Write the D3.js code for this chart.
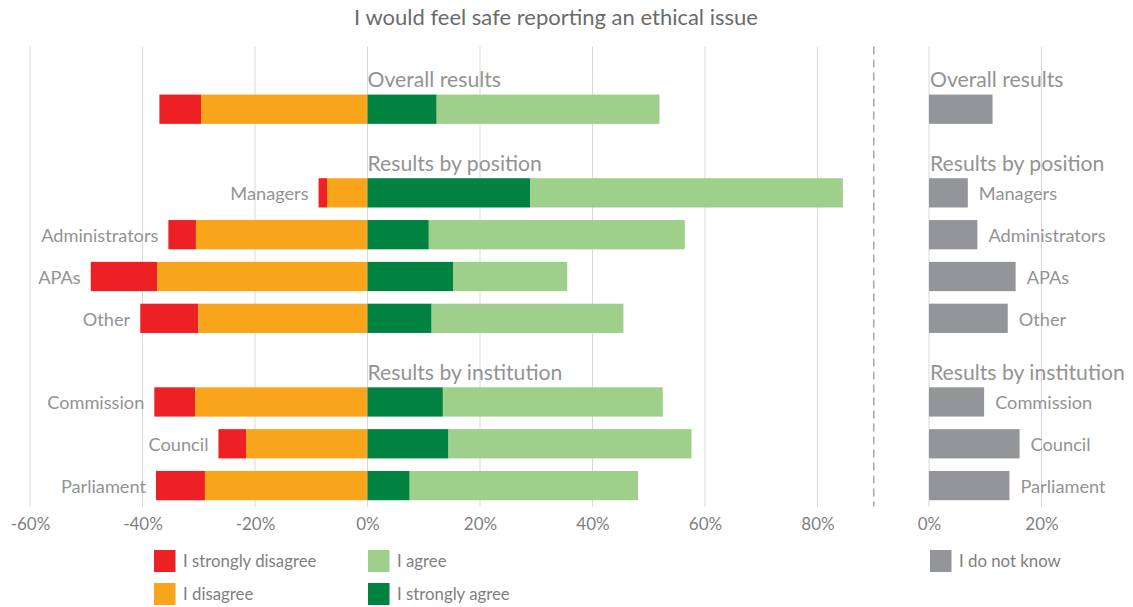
<!DOCTYPE html>
<html><head><meta charset="utf-8">
<script src="https://cdn.jsdelivr.net/npm/d3@7"></script>
<style>body{margin:0;background:#fff;}svg{display:block;font-family:Lato,"Open Sans",sans-serif;}</style>
</head><body><svg id="c" width="1133" height="607"></svg>
<script>
// ---- data ----
const rows = ["h0","Overall","h1","Managers","Administrators","APAs","Other","h2","Commission","Council","Parliament"];
const categories = ["Overall","Managers","Administrators","APAs","Other","Commission","Council","Parliament"];
const categoryLabels = ["","Managers","Administrators","APAs","Other","Commission","Council","Parliament"];
const headerKeys = ["h0","h1","h2"];
const headerLabels = ["Overall results","Results by position","Results by institution"];
const stronglyDisagree = [7.4, 1.5, 4.9, 11.8, 10.3, 7.3, 4.9, 8.7];
const disagree         = [29.6, 7.2, 30.5, 37.4, 30.1, 30.6, 21.6, 28.9];
const stronglyAgree    = [12.3, 28.9, 10.9, 15.2, 11.4, 13.4, 14.4, 7.5];
const agree            = [39.6, 55.6, 45.5, 20.3, 34.1, 39.1, 43.2, 40.6];
const dontKnow         = [11.3, 6.9, 8.6, 15.4, 14.0, 9.8, 16.1, 14.3];
const mainTicks = [-60,-40,-20,0,20,40,60,80];
const rightTicks = [0,20];
const seriesNames = ["I strongly disagree","I disagree","I agree","I strongly agree","I do not know"];
const colors = {sd:"#ed2024", d:"#f9a51c", a:"#9ecf8b", sa:"#008240", dk:"#939598"};
const title = "I would feel safe reporting an ethical issue";

// ---- scales ----
const svg = d3.select("#c");
const x = d3.scaleLinear().domain([-60,90]).range([30,873.75]);
const xr = d3.scaleLinear().domain([0,35]).range([929,929+35*5.625]);
const y = d3.scaleBand().domain(rows).range([46.5,506.5]).paddingInner(0.3).paddingOuter(0.15);
const bw = y.bandwidth();
const txt = "#939393";

svg.append("text").attr("x",556).attr("y",25).attr("text-anchor","middle")
  .attr("font-size",22).attr("fill","#6b6b6b").text(title);

// gridlines
const g = svg.append("g");
g.selectAll("line.gm").data(mainTicks).join("line")
  .attr("x1",d=>x(d)).attr("x2",d=>x(d)).attr("y1",46.5).attr("y2",506.5)
  .attr("stroke","#d9d9d9").attr("stroke-width",1);
g.selectAll("line.gr").data(rightTicks).join("line")
  .attr("x1",d=>xr(d)).attr("x2",d=>xr(d)).attr("y1",46.5).attr("y2",506.5)
  .attr("stroke","#d9d9d9").attr("stroke-width",1);
svg.append("line").attr("x1",x(90)).attr("x2",x(90)).attr("y1",46.5).attr("y2",506.5)
  .attr("stroke","#a6a6a6").attr("stroke-width",1.5).attr("stroke-dasharray","8,5");

// stacked bars
const data = categories.map((c,i)=>({c, sd:stronglyDisagree[i], d:disagree[i], sa:stronglyAgree[i], a:agree[i], dk:dontKnow[i], label:categoryLabels[i]}));
const segs = [];
data.forEach(r=>{
  segs.push({c:r.c, x0:-r.d-r.sd, x1:-r.d, col:colors.sd});
  segs.push({c:r.c, x0:-r.d, x1:0, col:colors.d});
  segs.push({c:r.c, x0:0, x1:r.sa, col:colors.sa});
  segs.push({c:r.c, x0:r.sa, x1:r.sa+r.a, col:colors.a});
});
svg.append("g").selectAll("rect").data(segs).join("rect")
  .attr("x",d=>x(d.x0)).attr("width",d=>x(d.x1)-x(d.x0))
  .attr("y",d=>y(d.c)).attr("height",bw).attr("fill",d=>d.col);
svg.append("g").selectAll("rect").data(data).join("rect")
  .attr("x",xr(0)).attr("width",d=>xr(d.dk)-xr(0))
  .attr("y",d=>y(d.c)).attr("height",bw).attr("fill",colors.dk);

// category labels
svg.append("g").selectAll("text").data(data).join("text")
  .attr("x",d=>x(-d.d-d.sd)-10).attr("y",d=>y(d.c)+bw/2+1).attr("dy","0.35em")
  .attr("text-anchor","end").attr("font-size",18.2).attr("fill",txt).text(d=>d.label);
svg.append("g").selectAll("text").data(data).join("text")
  .attr("x",d=>xr(d.dk)+11).attr("y",d=>y(d.c)+bw/2+1).attr("dy","0.35em")
  .attr("font-size",18.2).attr("fill",txt).text(d=>d.label);

// headers
headerKeys.forEach((k,i)=>{
  const next = rows[rows.indexOf(k)+1];
  const yy = y(next)-7.5;
  svg.append("text").attr("x",x(0)).attr("y",yy).attr("font-size",21.2).attr("fill",txt).text(headerLabels[i]);
  svg.append("text").attr("x",xr(0)+1).attr("y",yy).attr("font-size",21.2).attr("fill",txt).text(headerLabels[i]);
});

// axes
function styleAxis(sel){
  sel.select(".domain").remove();
  sel.selectAll(".tick line").remove();
  sel.selectAll("text").attr("font-size",17).attr("fill","#7f7f7f").attr("font-family","Lato,sans-serif");
}
svg.append("g").attr("transform","translate(0,518)")
  .call(d3.axisBottom(x).tickValues(mainTicks).tickFormat(d=>d+"%").tickSize(0).tickPadding(0))
  .call(styleAxis);
svg.append("g").attr("transform","translate(0,518)")
  .call(d3.axisBottom(xr).tickValues(rightTicks).tickFormat(d=>d+"%").tickSize(0).tickPadding(0))
  .call(styleAxis);

// legend
const legend = [
  {name:seriesNames[0], col:colors.sd, x:154, y:550},
  {name:seriesNames[1], col:colors.d, x:154, y:583},
  {name:seriesNames[2], col:colors.a, x:368, y:550},
  {name:seriesNames[3], col:colors.sa, x:368, y:583},
  {name:seriesNames[4], col:colors.dk, x:930, y:550}
];
const lg = svg.append("g").selectAll("g").data(legend).join("g").attr("transform",d=>`translate(${d.x},${d.y})`);
lg.append("rect").attr("width",21.5).attr("height",22).attr("fill",d=>d.col);
lg.append("text").attr("x",29).attr("y",11.5).attr("dy","0.35em").attr("font-size",16.8).attr("fill","#7f7f7f").text(d=>d.name);
</script></body></html>
